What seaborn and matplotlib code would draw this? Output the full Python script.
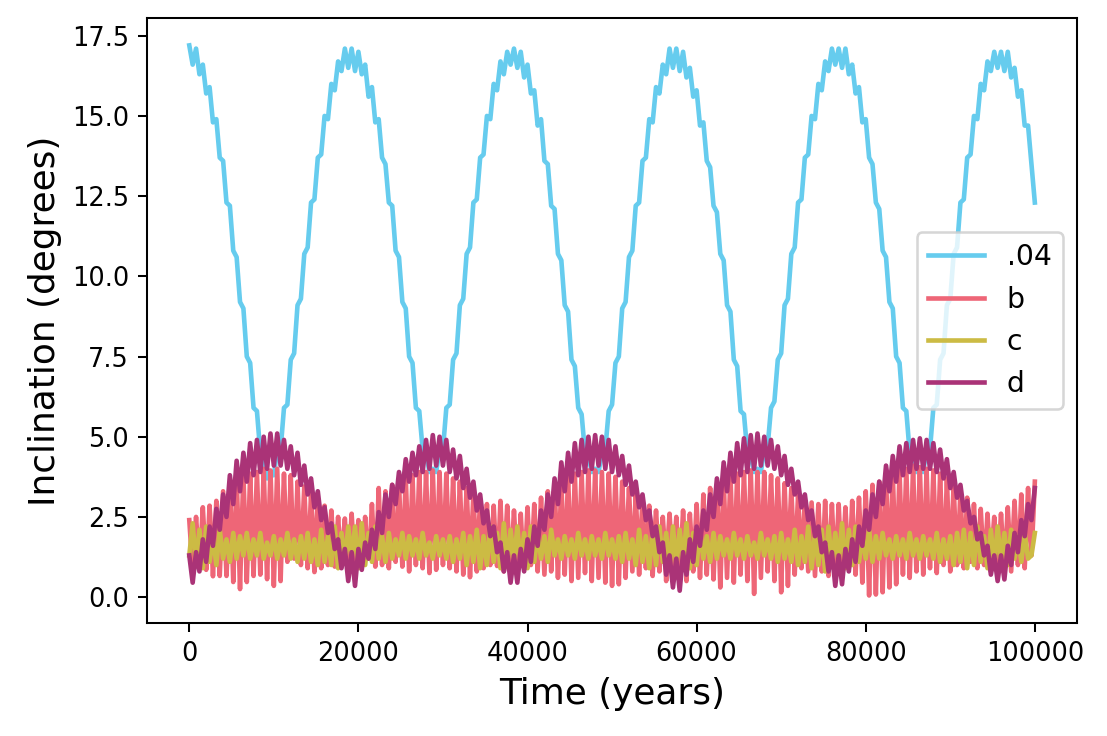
import numpy as np
import matplotlib
matplotlib.use("Agg")
import matplotlib.pyplot as plt
import seaborn as sns

# ---------------- data ----------------
series_labels = [".04", "b", "c", "d"]
series_colors = ["#66CCEE", "#EE6677", "#CCBB44", "#AA3377"]

# ".04" inclination, sampled every 400 years
inc_04 = [
    17.2, 16.6, 17.1, 16.3, 16.6, 15.7, 15.9, 14.8, 14.9, 13.7, 13.6, 12.3, 12.2, 10.8, 10.6, 9.2,
    9.0, 7.5, 7.3, 5.9, 5.8, 4.5, 4.4, 3.7, 3.8, 3.8, 4.6, 4.6, 5.9, 6.0, 7.4, 7.6,
    9.1, 9.3, 10.7, 10.9, 12.3, 12.4, 13.7, 13.8, 15.0, 14.9, 16.0, 15.8, 16.7, 16.4, 17.1, 16.5,
    17.1, 16.4, 17.0, 16.3, 16.6, 15.6, 15.9, 14.8, 14.9, 13.7, 13.5, 12.3, 12.2, 10.8, 10.6, 9.2,
    9.0, 7.5, 7.3, 5.9, 5.8, 4.6, 4.5, 3.9, 4.0, 3.9, 4.6, 4.6, 5.9, 6.0, 7.4, 7.6,
    9.1, 9.3, 10.7, 10.9, 12.3, 12.4, 13.7, 13.8, 15.0, 14.9, 16.0, 15.8, 16.7, 16.3, 17.0, 16.6,
    17.1, 16.5, 17.0, 16.2, 16.6, 15.7, 15.8, 14.7, 14.9, 13.6, 13.5, 12.2, 12.1, 10.7, 10.5, 9.1,
    8.9, 7.4, 7.2, 5.9, 5.7, 4.5, 4.4, 3.9, 4.0, 3.9, 4.5, 4.6, 5.8, 6.0, 7.3, 7.5,
    9.0, 9.2, 10.6, 10.8, 12.2, 12.3, 13.6, 13.7, 14.9, 14.8, 15.9, 15.7, 16.6, 16.3, 17.1, 16.5,
    17.1, 16.4, 17.0, 16.2, 16.5, 15.6, 15.8, 14.7, 14.8, 13.6, 13.4, 12.2, 12.0, 10.7, 10.5, 9.1,
    8.9, 7.4, 7.2, 5.8, 5.7, 4.5, 4.4, 3.9, 4.0, 3.9, 4.6, 4.7, 5.9, 6.1, 7.4, 7.6,
    9.1, 9.3, 10.7, 10.9, 12.3, 12.4, 13.7, 13.8, 15.0, 14.9, 16.0, 15.8, 16.7, 16.4, 17.1, 16.6,
    17.1, 16.5, 17.1, 16.3, 16.6, 15.7, 15.9, 14.8, 14.9, 13.7, 13.5, 12.3, 12.1, 10.8, 10.6, 9.2,
    9.0, 7.5, 7.3, 5.9, 5.8, 4.5, 4.5, 3.9, 4.0, 3.9, 4.6, 4.6, 5.9, 6.0, 7.4, 7.6,
    9.1, 9.3, 10.7, 10.9, 12.3, 12.4, 13.7, 13.8, 15.0, 14.9, 16.0, 15.8, 16.7, 16.4, 17.0, 16.5,
    17.0, 16.4, 17.0, 16.2, 16.5, 15.6, 15.8, 14.7, 14.7, 13.5, 12.3,
]

# "b" inclination, sampled every 200 years, written as groups of 4 samples
inc_b_groups = [
    (2.4, 1.6, 1.1, 1.7), (2.5, 1.7, 1.0, 1.8), (2.8, 1.8, 0.85, 1.7), (2.85, 1.9, 0.65, 1.8),
    (3.0, 1.9, 0.66, 2.0), (3.3, 2.0, 0.66, 1.9), (3.5, 2.1, 0.47, 2.0), (3.7, 2.1, 0.25, 2.2),
    (3.8, 2.2, 0.47, 2.1), (3.85, 2.2, 0.66, 2.3), (3.9, 2.3, 0.7, 2.2), (4.0, 2.2, 0.56, 2.3),
    (3.95, 2.3, 0.35, 2.2), (4.0, 2.2, 0.5, 2.3), (3.85, 2.3, 1.1, 2.2), (3.8, 2.2, 1.2, 2.1),
    (3.6, 2.1, 1.0, 2.2), (3.45, 2.1, 0.9, 2.0), (3.2, 2.0, 0.78, 2.1), (3.05, 1.9, 0.9, 1.9),
    (2.85, 1.8, 1.0, 1.9), (2.7, 1.8, 0.95, 1.7), (2.5, 1.7, 1.1, 1.8), (2.45, 1.6, 1.0, 1.7),
    (2.6, 1.7, 1.1, 1.6), (2.4, 1.6, 1.0, 1.7), (2.5, 1.7, 1.2, 1.8), (2.9, 1.8, 0.95, 1.9),
    (3.4, 1.9, 1.0, 2.0), (3.3, 2.0, 0.9, 2.1), (3.5, 2.1, 1.1, 2.0), (3.6, 2.1, 0.95, 2.2),
    (3.75, 2.2, 0.8, 2.1), (3.8, 2.2, 1.0, 2.3), (3.9, 2.3, 0.9, 2.2), (3.9, 2.2, 0.75, 2.3),
    (3.95, 2.3, 0.85, 2.2), (3.9, 2.2, 1.0, 2.3), (3.85, 2.3, 0.9, 2.2), (3.7, 2.2, 0.8, 2.1),
    (3.6, 2.1, 0.7, 2.2), (3.4, 2.1, 0.62, 2.0), (3.2, 2.0, 0.8, 2.0), (3.0, 1.9, 0.9, 1.9),
    (2.9, 1.8, 1.0, 1.8), (2.85, 1.8, 0.97, 1.7), (3.0, 1.7, 0.8, 1.8), (2.85, 1.7, 0.9, 1.7),
    (2.7, 1.7, 1.0, 1.6), (2.6, 1.6, 0.9, 1.7), (2.8, 1.7, 1.0, 1.8), (2.9, 1.8, 0.8, 1.9),
    (3.1, 1.9, 0.7, 2.0), (3.3, 2.0, 0.8, 1.9), (3.5, 2.1, 0.6, 2.0), (3.6, 2.1, 0.7, 2.2),
    (3.75, 2.2, 0.5, 2.1), (3.85, 2.2, 0.6, 2.3), (3.9, 2.3, 0.75, 2.2), (3.95, 2.2, 0.5, 2.3),
    (3.95, 2.3, 0.6, 2.2), (3.9, 2.2, 0.45, 2.3), (3.85, 2.3, 0.35, 2.2), (3.75, 2.2, 0.4, 2.1),
    (3.6, 2.1, 0.6, 2.2), (3.4, 2.1, 0.8, 2.0), (3.2, 2.0, 0.7, 2.0), (3.0, 1.9, 0.9, 1.9),
    (2.85, 1.8, 0.66, 1.8), (2.7, 1.8, 0.8, 1.7), (2.5, 1.7, 0.5, 1.8), (2.6, 1.7, 0.7, 1.7),
    (2.5, 1.6, 0.66, 1.7), (2.7, 1.7, 0.5, 1.6), (2.6, 1.7, 0.8, 1.8), (2.9, 1.8, 0.6, 1.9),
    (3.2, 1.9, 0.7, 2.0), (3.4, 2.0, 0.55, 1.9), (3.5, 2.1, 0.3, 2.0), (3.65, 2.1, 0.6, 2.2),
    (3.8, 2.2, 0.45, 2.1), (3.85, 2.2, 0.7, 2.3), (3.9, 2.3, 0.5, 2.2), (3.95, 2.2, 0.1, 2.3),
    (3.9, 2.3, 0.6, 2.2), (3.9, 2.2, 0.8, 2.3), (3.8, 2.3, 0.5, 2.2), (3.7, 2.2, 0.15, 2.1),
    (3.55, 2.1, 0.35, 2.2), (3.4, 2.1, 0.7, 2.0), (3.2, 2.0, 0.9, 2.0), (3.0, 1.9, 0.8, 1.9),
    (2.95, 1.8, 0.66, 1.8), (2.9, 1.8, 0.8, 1.7), (3.0, 1.7, 0.66, 1.8), (2.9, 1.7, 0.7, 1.8),
    (2.9, 1.7, 0.75, 1.8), (2.8, 1.8, 0.9, 1.7), (3.0, 1.8, 0.7, 1.9), (3.1, 1.9, 0.45, 2.0),
    (3.3, 2.0, 0.05, 1.9), (3.5, 2.0, 0.08, 2.1), (3.6, 2.1, 0.15, 2.0), (3.75, 2.1, 0.3, 2.2),
    (3.85, 2.2, 0.4, 2.1), (3.95, 2.2, 0.7, 2.3), (4.0, 2.3, 0.6, 2.2), (4.1, 2.2, 0.8, 2.3),
    (4.05, 2.3, 0.7, 2.2), (4.0, 2.2, 0.9, 2.3), (3.95, 2.3, 0.75, 2.2), (3.85, 2.2, 1.0, 2.1),
    (3.7, 2.1, 0.8, 2.2), (3.5, 2.1, 1.0, 2.0), (3.3, 2.0, 0.9, 2.0), (3.1, 1.9, 1.1, 1.9),
    (2.9, 1.8, 0.9, 1.8), (2.75, 1.8, 1.0, 1.7), (2.6, 1.7, 0.8, 1.8), (2.5, 1.7, 1.0, 1.7),
    (2.6, 1.7, 0.9, 1.8), (2.8, 1.8, 0.8, 1.9), (3.0, 1.9, 1.0, 2.0), (3.2, 2.0, 0.9, 2.1),
    (3.4, 2.1, 1.3, 2.4),
]
inc_b_last = 3.6

# "c" inclination, sampled every 400 years
inc_c = [
    1.3, 2.3, 1.0, 2.1, 0.9, 2.2, 1.1, 1.9, 1.0, 2.1, 1.2, 1.8, 1.1, 2.0, 1.2, 1.9,
    1.3, 2.0, 1.2, 1.8, 1.3, 2.0, 1.2, 1.7, 1.3, 1.9, 1.2, 1.8, 1.3, 2.0, 1.2, 1.8,
    1.1, 1.9, 1.2, 2.0, 1.1, 1.8, 1.0, 2.1, 1.1, 1.9, 1.0, 2.2, 0.9, 2.0, 1.1, 2.2,
    1.2, 2.2, 0.9, 2.3, 1.0, 2.0, 1.1, 2.2, 1.2, 1.9, 1.1, 2.0, 1.2, 1.8, 1.3, 2.0,
    1.2, 1.9, 1.3, 1.8, 1.2, 2.0, 1.3, 1.7, 1.2, 1.9, 1.3, 1.8, 1.2, 1.9, 1.1, 1.8,
    1.2, 2.0, 1.0, 1.9, 1.1, 2.1, 0.9, 1.9, 1.0, 2.2, 1.1, 2.0, 0.9, 2.3, 1.0, 2.1,
    1.1, 2.2, 1.0, 2.0, 0.9, 2.2, 1.1, 2.0, 1.2, 1.9, 1.1, 2.1, 1.3, 1.8, 1.2, 1.9,
    1.3, 1.8, 1.2, 2.0, 1.3, 1.8, 1.2, 1.9, 1.3, 1.8, 1.2, 2.0, 1.3, 1.8, 1.2, 1.9,
    1.1, 2.0, 1.2, 1.8, 1.0, 2.1, 1.1, 1.9, 0.9, 2.1, 1.0, 2.2, 1.1, 2.0, 0.9, 2.2,
    1.0, 2.1, 1.1, 2.3, 0.9, 2.0, 1.0, 2.1, 1.2, 1.9, 1.1, 2.0, 1.2, 1.9, 1.3, 1.8,
    1.2, 2.0, 1.3, 1.8, 1.2, 1.9, 1.3, 1.7, 1.2, 2.0, 1.3, 1.8, 1.2, 1.9, 1.1, 2.0,
    1.2, 1.8, 1.1, 2.1, 1.0, 1.9, 1.1, 2.2, 0.9, 2.0, 1.0, 2.1, 0.8, 2.2, 1.0, 2.0,
    1.1, 2.3, 0.9, 2.1, 1.0, 2.2, 1.1, 1.9, 1.2, 2.1, 1.1, 1.9, 1.2, 2.0, 1.3, 1.8,
    1.2, 1.9, 1.3, 1.8, 1.2, 2.0, 1.3, 1.8, 1.2, 1.9, 1.3, 1.8, 1.2, 2.0, 1.1, 1.8,
    1.2, 1.9, 1.0, 2.0, 1.1, 2.1, 0.9, 2.0, 1.0, 2.2, 1.1, 1.9, 0.9, 2.1, 1.0, 2.2,
    1.1, 2.0, 1.0, 2.1, 1.2, 1.9, 1.1, 2.0, 1.2, 1.3, 2.0,
]

# "d" inclination, sampled every 400 years
inc_d = [
    1.3, 0.45, 1.4, 0.8, 1.8, 1.1, 2.2, 1.6, 2.75, 2.1, 3.2, 2.5, 3.8, 2.9, 4.25, 3.3,
    4.5, 3.6, 4.8, 3.8, 4.9, 3.9, 5.0, 4.0, 5.1, 4.1, 5.1, 4.1, 4.9, 4.0, 4.7, 3.8,
    4.5, 3.5, 4.1, 3.2, 3.7, 2.8, 3.3, 2.4, 2.8, 2.0, 2.3, 1.5, 1.8, 0.9, 1.5, 0.5,
    1.4, 0.35, 1.5, 0.85, 1.7, 1.2, 2.1, 1.5, 2.65, 2.0, 3.2, 2.5, 3.5, 2.9, 3.9, 3.3,
    4.3, 3.6, 4.5, 3.8, 4.7, 3.9, 4.9, 4.0, 5.05, 4.1, 5.0, 4.1, 4.9, 3.9, 4.6, 3.7,
    4.4, 3.4, 4.0, 3.1, 3.6, 2.7, 3.2, 2.3, 2.7, 1.9, 2.2, 1.4, 1.7, 0.8, 1.4, 0.45,
    1.3, 0.45, 1.5, 0.8, 1.8, 1.1, 2.2, 1.6, 2.7, 2.1, 3.2, 2.5, 3.7, 2.9, 4.2, 3.3,
    4.5, 3.6, 4.8, 3.8, 4.9, 3.9, 5.0, 4.0, 5.05, 4.1, 5.0, 4.0, 4.9, 3.9, 4.7, 3.8,
    4.4, 3.5, 4.1, 3.2, 3.6, 2.8, 3.2, 2.4, 2.7, 1.9, 2.2, 1.4, 1.7, 0.7, 1.3, 0.3,
    1.2, 0.2, 1.4, 0.7, 1.8, 1.1, 2.2, 1.6, 2.7, 2.1, 3.2, 2.5, 3.7, 2.9, 4.2, 3.3,
    4.5, 3.6, 4.8, 3.8, 4.95, 3.9, 5.05, 4.0, 5.1, 4.1, 5.0, 4.1, 4.9, 4.0, 4.7, 3.8,
    4.4, 3.5, 4.0, 3.2, 3.6, 2.8, 3.2, 2.4, 2.7, 1.9, 2.2, 1.4, 1.7, 0.8, 1.4, 0.35,
    1.3, 0.4, 1.5, 0.8, 1.8, 1.1, 2.2, 1.6, 2.7, 2.1, 3.2, 2.5, 3.6, 2.9, 4.1, 3.3,
    4.4, 3.6, 4.7, 3.8, 4.8, 3.9, 4.9, 4.0, 4.95, 4.0, 4.9, 4.0, 4.8, 3.9, 4.6, 3.7,
    4.3, 3.4, 3.9, 3.1, 3.5, 2.7, 3.0, 2.3, 2.5, 1.8, 2.0, 1.3, 1.6, 0.7, 1.3, 0.5,
    1.3, 0.55, 1.6, 1.0, 2.0, 1.4, 2.4, 1.9, 2.9, 2.4, 3.4,
]

step_coarse = 400   # years between samples of .04, c, d
step_fine = 200     # years between samples of b

# ---------------- build plotting arrays ----------------
inc_b = [v for grp in inc_b_groups for v in grp] + [inc_b_last]
t_04 = np.arange(len(inc_04)) * step_coarse
t_b = np.arange(len(inc_b)) * step_fine
t_c = np.arange(len(inc_c)) * step_coarse
t_d = np.arange(len(inc_d)) * step_coarse

fig, ax = plt.subplots(figsize=(6, 3.99), dpi=184.5)
fig.subplots_adjust(left=0.1328, right=0.973, top=0.9755, bottom=0.1535)

for t, y, lab, col in zip([t_04, t_b, t_c, t_d], [inc_04, inc_b, inc_c, inc_d],
                          series_labels, series_colors):
    sns.lineplot(x=t, y=y, color=col, linewidth=1.8, label=lab, ax=ax)

ax.set_xlabel("Time (years)", fontsize=14)
ax.set_ylabel("Inclination (degrees)", fontsize=14)
ax.legend(loc="center right", fontsize=11)

fig.savefig("out.png", dpi=184.5)
